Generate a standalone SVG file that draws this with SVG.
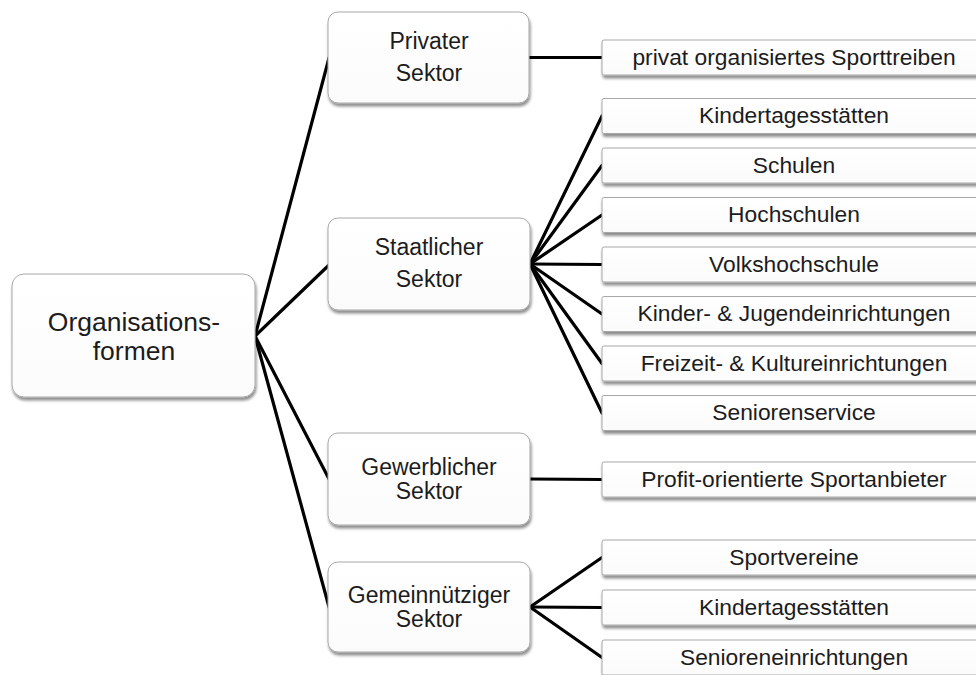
<svg xmlns="http://www.w3.org/2000/svg" width="976" height="675" viewBox="0 0 976 675">
<defs>
<filter id="sh" x="-10%" y="-20%" width="120%" height="150%">
<feGaussianBlur in="SourceAlpha" stdDeviation="1.5"/>
<feOffset dx="1" dy="2.5" result="b"/>
<feComponentTransfer><feFuncA type="linear" slope="0.45"/></feComponentTransfer>
<feMerge><feMergeNode/><feMergeNode in="SourceGraphic"/></feMerge>
</filter>
<linearGradient id="g" x1="0" y1="0" x2="0" y2="1">
<stop offset="0" stop-color="#ffffff"/>
<stop offset="1" stop-color="#fbfbfb"/>
</linearGradient>
</defs>
<style>
.box{fill:url(#g);stroke:#a8a8a8;stroke-width:1;filter:url(#sh)}
.t{font-family:"Liberation Sans",Arial,sans-serif;fill:#1c1c1c;text-anchor:middle}
.r{font-size:26.5px}
.s{font-size:23px}
.c{font-size:22.8px}
.ln{stroke:#000;stroke-width:3.2;fill:none;stroke-linecap:round}
</style>
<rect width="976" height="675" fill="#fff"/>
<g id="connectors">
<line class="ln" x1="255" y1="336" x2="329" y2="58"/>
<line class="ln" x1="255" y1="336" x2="329" y2="265"/>
<line class="ln" x1="255" y1="336" x2="329" y2="479"/>
<line class="ln" x1="255" y1="336" x2="329" y2="607"/>
<line class="ln" x1="529" y1="57.5" x2="602" y2="57.5"/>
<line class="ln" x1="530" y1="264" x2="602" y2="116"/>
<line class="ln" x1="530" y1="264" x2="602" y2="165.5"/>
<line class="ln" x1="530" y1="264" x2="602" y2="215"/>
<line class="ln" x1="530" y1="264" x2="602" y2="264.5"/>
<line class="ln" x1="530" y1="264" x2="602" y2="314"/>
<line class="ln" x1="530" y1="264" x2="602" y2="363.5"/>
<line class="ln" x1="530" y1="264" x2="602" y2="413"/>
<line class="ln" x1="530" y1="479" x2="602" y2="479.5"/>
<line class="ln" x1="530" y1="607" x2="602" y2="557.5"/>
<line class="ln" x1="530" y1="607" x2="602" y2="607.5"/>
<line class="ln" x1="530" y1="607" x2="602" y2="657.5"/>
</g>
<g id="root">
<rect class="box" x="12" y="274" width="243" height="123" rx="12"/>
<text class="t r" x="134" y="331">Organisations-</text>
<text class="t r" x="134" y="360">formen</text>
</g>
<g id="privat">
<rect class="box" x="328" y="12" width="201" height="91" rx="10"/>
<text class="t s" x="429" y="48.5">Privater</text>
<text class="t s" x="429" y="81">Sektor</text>
</g>
<g id="staat">
<rect class="box" x="328" y="218" width="202" height="92" rx="10"/>
<text class="t s" x="429" y="255">Staatlicher</text>
<text class="t s" x="429" y="287">Sektor</text>
</g>
<g id="gewerb">
<rect class="box" x="328" y="433" width="202" height="92" rx="10"/>
<text class="t s" x="429" y="475">Gewerblicher</text>
<text class="t s" x="429" y="499">Sektor</text>
</g>
<g id="gemein">
<rect class="box" x="328" y="562" width="202" height="90" rx="10"/>
<text class="t s" x="429" y="603">Gemeinnütziger</text>
<text class="t s" x="429" y="627">Sektor</text>
</g>
<g id="c-privat">
<rect class="box" x="602" y="40" width="383" height="35" rx="2"/>
<text class="t c" x="794" y="64.5">privat organisiertes Sporttreiben</text>
</g>
<g id="c-kita1">
<rect class="box" x="602" y="98.5" width="383" height="35" rx="2"/>
<text class="t c" x="794" y="123">Kindertagesstätten</text>
</g>
<g id="c-schulen">
<rect class="box" x="602" y="148" width="383" height="35" rx="2"/>
<text class="t c" x="794" y="172.5">Schulen</text>
</g>
<g id="c-hoch">
<rect class="box" x="602" y="197.5" width="383" height="35" rx="2"/>
<text class="t c" x="794" y="222">Hochschulen</text>
</g>
<g id="c-volks">
<rect class="box" x="602" y="247" width="383" height="35" rx="2"/>
<text class="t c" x="794" y="271.5">Volkshochschule</text>
</g>
<g id="c-kinder">
<rect class="box" x="602" y="296.5" width="383" height="35" rx="2"/>
<text class="t c" x="794" y="321">Kinder- &amp; Jugendeinrichtungen</text>
</g>
<g id="c-freizeit">
<rect class="box" x="602" y="346" width="383" height="35" rx="2"/>
<text class="t c" x="794" y="370.5">Freizeit- &amp; Kultureinrichtungen</text>
</g>
<g id="c-senserv">
<rect class="box" x="602" y="395.5" width="383" height="35" rx="2"/>
<text class="t c" x="794" y="420">Seniorenservice</text>
</g>
<g id="c-profit">
<rect class="box" x="602" y="462" width="383" height="35" rx="2"/>
<text class="t c" x="794" y="486.5">Profit-orientierte Sportanbieter</text>
</g>
<g id="c-sport">
<rect class="box" x="602" y="540" width="383" height="35" rx="2"/>
<text class="t c" x="794" y="564.5">Sportvereine</text>
</g>
<g id="c-kita2">
<rect class="box" x="602" y="590" width="383" height="35" rx="2"/>
<text class="t c" x="794" y="614.5">Kindertagesstätten</text>
</g>
<g id="c-senein">
<rect class="box" x="602" y="640" width="383" height="35" rx="2"/>
<text class="t c" x="794" y="664.5">Senioreneinrichtungen</text>
</g>
</svg>
